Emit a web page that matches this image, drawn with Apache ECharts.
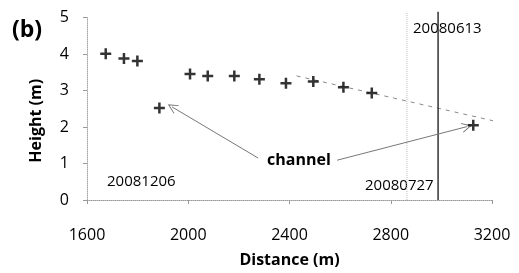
<!DOCTYPE html>
<html>
<head>
<meta charset="utf-8">
<script src="https://cdn.jsdelivr.net/npm/echarts@6/dist/echarts.min.js"></script>
<style>
  html, body { margin: 0; padding: 0; background: #fff; }
  #chart { width: 519px; height: 273px; }
</style>
</head>
<body>
<div id="chart"></div>
<script>
// survey points along the profile
const distance = [1674, 1746, 1799, 1886, 2007, 2077, 2182, 2281, 2386, 2494, 2613, 2725, 3126];
const height   = [4.01, 3.88, 3.81, 2.52, 3.45, 3.40, 3.40, 3.31, 3.20, 3.25, 3.09, 2.93, 2.05];

// dashed trend line (two ends)
const trendX = [2428, 3205];
const trendY = [3.40, 2.17];

// date lines
const grayLineX = 2864;
const blackLineX = 2987;
const dateLineY = [0, 5.16];

// arrows from "channel" label to the channel points
const arrowFrom = [[2276, 1.15], [2588, 1.09]];
const arrowTo   = [[1936, 2.55], [3101, 2.01]];

const xTicks = [1600, 2000, 2400, 2800, 3200];
const yTicks = [0, 1, 2, 3, 4, 5];

const font = '"Open Sans", "Liberation Sans", sans-serif';
const plus = 'path://M4.25,0 H6.75 V4.25 H11 V6.75 H6.75 V11 H4.25 V6.75 H0 V4.25 H4.25 Z';
const chevron = 'path://M0,0 L6,12 L4.8,12 L0,2.6 L-4.8,12 L-6,12 Z';

const chart = echarts.init(document.getElementById('chart'));
chart.setOption({
  animation: false,
  grid: { left: 87, right: 27, top: 17.5, bottom: 70.5 },
  xAxis: {
    type: 'value',
    min: xTicks[0],
    max: xTicks[xTicks.length - 1],
    interval: 400,
    name: 'Distance (m)',
    nameLocation: 'middle',
    nameGap: 52,
    nameTextStyle: { fontFamily: font, fontWeight: 'bold', fontSize: 16, color: '#000' },
    axisLine: { show: true, lineStyle: { color: '#999', type: 'dotted', width: 1 } },
    axisTick: { show: true, length: 4, lineStyle: { color: '#999' } },
    axisLabel: { margin: 27, fontFamily: font, fontSize: 16, color: '#000', formatter: v => String(v) },
    splitLine: { show: false }
  },
  yAxis: {
    type: 'value',
    min: yTicks[0],
    max: yTicks[yTicks.length - 1],
    interval: 1,
    name: 'Height (m)',
    nameLocation: 'middle',
    nameGap: 43,
    nameTextStyle: { fontFamily: font, fontWeight: 'bold', fontSize: 16, color: '#000', padding: [0, 24, 0, 0] },
    axisLine: { show: true, lineStyle: { color: '#aaa', type: 'dotted', width: 1 } },
    axisTick: { show: true, length: 4, lineStyle: { color: '#999' } },
    axisLabel: { margin: 18, fontFamily: font, fontSize: 16, color: '#000' },
    splitLine: { show: false }
  },
  series: [
    {
      type: 'line',
      data: trendX.map((x, i) => [x, trendY[i]]),
      showSymbol: false,
      clip: false,
      lineStyle: { color: '#888', width: 1, type: [4, 5] },
      z: 1
    },
    {
      type: 'line',
      data: dateLineY.map(y => [grayLineX, y]),
      showSymbol: false,
      clip: false,
      lineStyle: { color: '#bbb', width: 1, type: 'dotted' },
      z: 1
    },
    {
      type: 'line',
      data: dateLineY.map(y => [blackLineX, y]),
      showSymbol: false,
      clip: false,
      lineStyle: { color: '#333', width: 1.5 },
      z: 1
    },
    {
      type: 'lines',
      coordinateSystem: 'cartesian2d',
      data: arrowFrom.map((p, i) => ({ coords: [p, arrowTo[i]] })),
      symbol: ['none', chevron],
      symbolSize: [9, 10],
      lineStyle: { color: '#777', width: 1, opacity: 1 },
      z: 2
    },
    {
      type: 'scatter',
      data: distance.map((d, i) => [d, height[i]]),
      symbol: plus,
      symbolSize: 11,
      itemStyle: { color: '#000' },
      z: 3
    }
  ],
  graphic: [
    { type: 'text', left: 12, top: 19, style: { text: '(b)', font: 'bold 23px ' + font, fill: '#000' } },
    { type: 'text', left: 107, top: 174, style: { text: '20081206', font: '15px ' + font, fill: '#000' } },
    { type: 'text', left: 365, top: 178, style: { text: '20080727', font: '15px ' + font, fill: '#000' } },
    { type: 'text', left: 413, top: 21, style: { text: '20080613', font: '15px ' + font, fill: '#000' } },
    { type: 'text', left: 267, top: 152, style: { text: 'channel', font: 'bold 16px ' + font, fill: '#000' } }
  ]
});
</script>
</body>
</html>
